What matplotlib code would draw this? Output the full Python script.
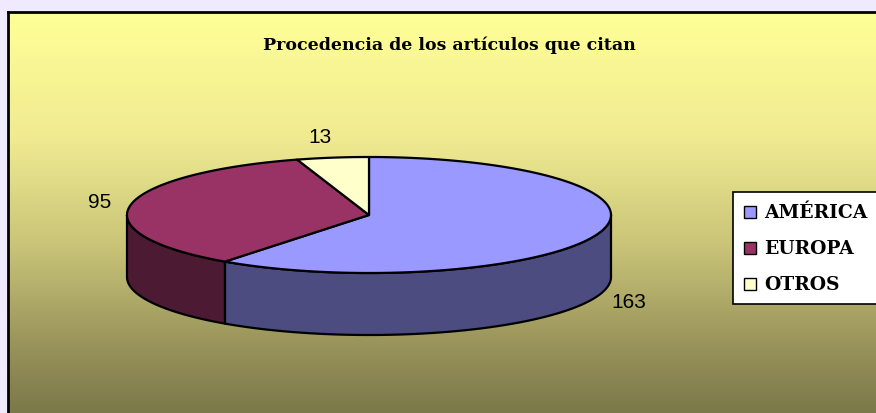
import numpy as np
import matplotlib
matplotlib.use("Agg")
import matplotlib.pyplot as plt
from matplotlib.patches import Polygon, Rectangle
from matplotlib.colors import LinearSegmentedColormap

# datos
categorias = ["AMÉRICA", "EUROPA", "OTROS"]
valores = [163, 95, 13]
colores_top = ["#9999FF", "#993366", "#FFFFCC"]
colores_lado = ["#4C4C80", "#4D1A33", "#80806A"]
titulo = "Procedencia de los artículos que citan"

fig = plt.figure(figsize=(8.76, 4.14), dpi=100)
fig.patch.set_facecolor("#F0EAFF")

# fondo con degradado
bg = fig.add_axes([8 / 876, -0.05, 1.0, 1.05 - 13 / 414])
cmap = LinearSegmentedColormap.from_list("fondo", [
    (0.0, (1.0, 1.0, 0.59)),
    (0.3, (0.94, 0.92, 0.57)),
    (0.55, (0.79, 0.77, 0.47)),
    (0.8, (0.59, 0.57, 0.35)),
    (1.0, (0.45, 0.44, 0.27)),
])
grad = np.linspace(0, 1, 256).reshape(-1, 1)
bg.imshow(grad, aspect="auto", cmap=cmap, extent=[0, 1, 0, 1], origin="upper")
bg.set_xticks([])
bg.set_yticks([])
for s in ["right", "bottom"]:
    bg.spines[s].set_visible(False)
bg.spines["left"].set_linewidth(2)
bg.spines["top"].set_linewidth(2)

# eje principal en coordenadas de pixel
ax = fig.add_axes([0, 0, 1, 1])
ax.set_xlim(0, 876)
ax.set_ylim(414, 0)
ax.axis("off")

cx, cy = 369, 216
a, b = 242, 58
prof = 62

total = sum(valores)
angs = [90.0]
for v in valores:
    angs.append(angs[-1] - v / total * 360.0)

# paredes laterales (solo la mitad frontal: 180..360)
for i in range(len(valores)):
    t1, t0 = angs[i], angs[i + 1]
    lo, hi = t0 % 360, t0 % 360 + (t1 - t0)
    for base in (0, 360, -360):
        s = max(lo + base, 180)
        e = min(hi + base, 360)
        if e > s:
            tt = np.linspace(s, e, 120)
            xs = cx + a * np.cos(np.radians(tt))
            ys = cy - b * np.sin(np.radians(tt))
            pts = np.concatenate([np.column_stack([xs, ys]),
                                  np.column_stack([xs[::-1], ys[::-1] + prof])])
            ax.add_patch(Polygon(pts, closed=True, facecolor=colores_lado[i],
                                 edgecolor="black", linewidth=1.6, joinstyle="round"))

# caras superiores
for i in range(len(valores)):
    tt = np.linspace(angs[i], angs[i + 1], 200)
    xs = cx + a * np.cos(np.radians(tt))
    ys = cy - b * np.sin(np.radians(tt))
    pts = np.vstack([[cx, cy], np.column_stack([xs, ys])])
    ax.add_patch(Polygon(pts, closed=True, facecolor=colores_top[i],
                         edgecolor="black", linewidth=1.6, joinstyle="round"))

# etiquetas de valores
for i, v in enumerate(valores):
    mid = np.radians((angs[i] + angs[i + 1]) / 2)
    x = cx + a * 1.13 * np.cos(mid)
    y = cy - (b * 1.12 + 14) * np.sin(mid)
    if np.sin(mid) < 0:
        y += prof
    if np.sin(mid) > 0.9:
        x -= 8
    ax.text(x, y, str(v), ha="center", va="center", fontsize=15,
            family="Liberation Sans")

# titulo
ax.text(449, 45, titulo, ha="center", va="center", fontsize=12.5,
        fontweight="bold", family="DejaVu Serif")

# leyenda
ax.add_patch(Rectangle((733, 193), 160, 112, facecolor="white",
                       edgecolor="black", linewidth=1.2))
for i, nombre in enumerate(categorias):
    y = 213 + i * 36
    ax.add_patch(Rectangle((744, y - 6), 12, 12, facecolor=colores_top[i],
                           edgecolor="black", linewidth=1))
    ax.text(764, y, nombre, ha="left", va="center", fontsize=13.5,
            fontweight="bold", family="DejaVu Serif")

fig.savefig("out.png", dpi=100, facecolor=fig.get_facecolor())
